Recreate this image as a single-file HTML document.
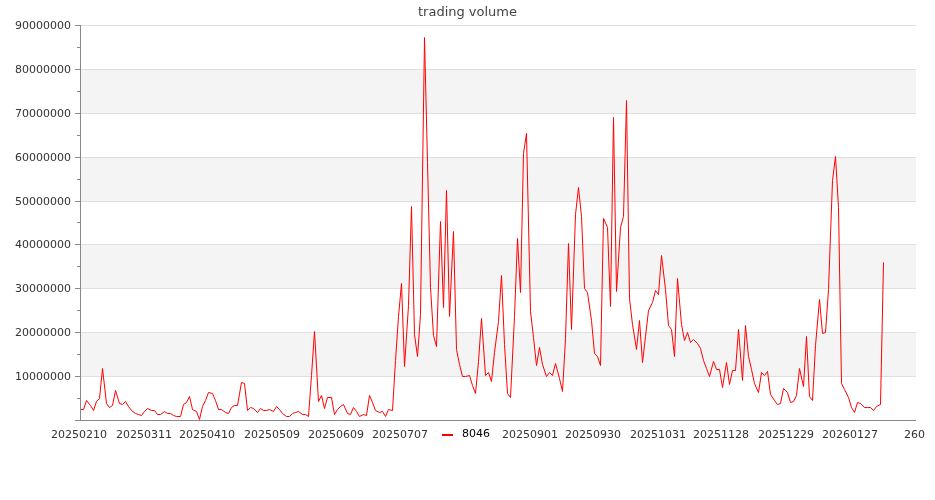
<!DOCTYPE html>
<html lang="en">
<head>
<meta charset="utf-8">
<title>trading volume</title>
<style>
html,body{margin:0;padding:0;background:#fff;}
body{width:935px;height:500px;overflow:hidden;position:relative;font-family:"DejaVu Sans","Liberation Sans",Verdana,sans-serif;}
#chart{position:absolute;left:0;top:0;width:935px;height:500px;}
svg{display:block}
text{font-family:"DejaVu Sans","Liberation Sans",Verdana,sans-serif;}
.yl{font-size:11px;fill:#333;text-anchor:end}
.xl{font-size:11px;fill:#333;text-anchor:start}
.ttl{font-size:13px;fill:#444;text-anchor:middle}
.lg{font-size:11px;fill:#000}
</style>
</head>
<body>
<div id="chart">
<svg width="935" height="500" viewBox="0 0 935 500">
<rect x="0" y="0" width="935" height="500" fill="#ffffff"/>

<g shape-rendering="crispEdges">
<rect x="81" y="69.39" width="835" height="43.89" fill="#f4f4f4"/>
<rect x="81" y="157.17" width="835" height="43.89" fill="#f4f4f4"/>
<rect x="81" y="244.94" width="835" height="43.89" fill="#f4f4f4"/>
<rect x="81" y="332.72" width="835" height="43.89" fill="#f4f4f4"/>
</g>
<g stroke="#dfdfdf" stroke-width="1" shape-rendering="crispEdges">
<line x1="81" y1="25.5" x2="916" y2="25.5"/>
<line x1="81" y1="69.5" x2="916" y2="69.5"/>
<line x1="81" y1="113.5" x2="916" y2="113.5"/>
<line x1="81" y1="157.5" x2="916" y2="157.5"/>
<line x1="81" y1="201.5" x2="916" y2="201.5"/>
<line x1="81" y1="244.5" x2="916" y2="244.5"/>
<line x1="81" y1="288.5" x2="916" y2="288.5"/>
<line x1="81" y1="332.5" x2="916" y2="332.5"/>
<line x1="81" y1="376.5" x2="916" y2="376.5"/>
</g>
<text class="yl" x="71" y="29.0">90000000</text>
<text class="yl" x="71" y="73.0">80000000</text>
<text class="yl" x="71" y="117.0">70000000</text>
<text class="yl" x="71" y="161.0">60000000</text>
<text class="yl" x="71" y="205.0">50000000</text>
<text class="yl" x="71" y="248.0">40000000</text>
<text class="yl" x="71" y="292.0">30000000</text>
<text class="yl" x="71" y="336.0">20000000</text>
<text class="yl" x="71" y="380.0">10000000</text>
<text class="xl" x="51" y="438">20250210</text>
<text class="xl" x="116" y="438">20250311</text>
<text class="xl" x="179" y="438">20250410</text>
<text class="xl" x="244" y="438">20250509</text>
<text class="xl" x="308" y="438">20250609</text>
<text class="xl" x="372" y="438">20250707</text>
<text class="xl" x="502" y="438">20250901</text>
<text class="xl" x="565" y="438">20250930</text>
<text class="xl" x="630" y="438">20251031</text>
<text class="xl" x="693" y="438">20251128</text>
<text class="xl" x="758" y="438">20251229</text>
<text class="xl" x="822" y="438">20260127</text>
<text class="xl" x="904" y="438">260</text>
<text class="ttl" x="467.5" y="16">trading volume</text>
<polyline fill="none" stroke="#ff0000" stroke-width="1" stroke-linejoin="miter" points="80.50,409.50 83.50,409.50 86.50,400.50 90.50,405.50 93.50,410.50 96.50,401.50 99.50,398.50 102.50,368.50 106.50,403.50 109.50,407.50 112.50,405.50 115.50,390.50 119.50,403.50 122.50,404.50 125.50,401.50 128.50,406.50 131.50,410.50 135.50,413.50 138.50,414.50 141.50,415.50 144.50,411.50 147.50,408.50 151.50,410.50 154.50,410.50 157.50,414.50 160.50,414.50 164.50,411.50 167.50,413.50 170.50,413.50 173.50,415.50 176.50,416.50 180.50,416.50 183.50,404.50 186.50,402.50 189.50,396.50 192.50,409.50 196.50,411.50 199.50,419.50 202.50,406.50 205.50,400.50 208.50,392.50 212.50,393.50 215.50,400.50 218.50,409.50 221.50,409.50 225.50,412.50 228.50,413.50 231.50,407.50 234.50,405.50 237.50,405.50 241.50,382.50 244.50,383.50 247.50,410.50 250.50,407.50 253.50,408.50 257.50,412.50 260.50,408.50 263.50,410.50 266.50,410.50 269.50,409.50 273.50,411.50 276.50,406.50 279.50,409.50 282.50,413.50 286.50,416.50 289.50,416.50 292.50,413.50 295.50,412.50 298.50,411.50 302.50,414.50 305.50,414.50 308.50,416.50 311.50,375.50 314.50,331.50 318.50,401.50 321.50,395.50 324.50,408.50 327.50,397.50 331.50,397.50 334.50,414.50 337.50,409.50 340.50,406.50 343.50,404.50 347.50,413.50 350.50,414.50 353.50,407.50 356.50,411.50 359.50,416.50 363.50,414.50 366.50,415.50 369.50,395.50 372.50,402.50 375.50,410.50 379.50,412.50 382.50,411.50 385.50,416.50 388.50,409.50 392.50,410.50 395.50,360.50 398.50,316.50 401.50,283.50 404.50,366.50 408.50,305.50 411.50,206.50 414.50,334.50 417.50,356.50 420.50,314.50 424.50,37.50 427.50,162.50 430.50,287.50 433.50,335.50 436.50,346.50 440.50,221.50 443.50,307.50 446.50,190.50 449.50,316.50 453.50,231.50 456.50,349.50 459.50,364.50 462.50,376.50 465.50,376.50 469.50,375.50 472.50,385.50 475.50,393.50 478.50,361.50 481.50,318.50 485.50,375.50 488.50,372.50 491.50,381.50 494.50,352.50 498.50,321.50 501.50,275.50 504.50,344.50 507.50,393.50 510.50,397.50 514.50,316.50 517.50,238.50 520.50,292.50 523.50,153.50 526.50,133.50 530.50,311.50 533.50,337.50 536.50,365.50 539.50,347.50 542.50,364.50 546.50,376.50 549.50,372.50 552.50,375.50 555.50,363.50 559.50,378.50 562.50,391.50 565.50,338.50 568.50,243.50 571.50,329.50 575.50,214.50 578.50,187.50 581.50,216.50 584.50,288.50 587.50,292.50 591.50,320.50 594.50,353.50 597.50,356.50 600.50,365.50 603.50,218.50 607.50,227.50 610.50,306.50 613.50,117.50 616.50,291.50 620.50,227.50 623.50,216.50 626.50,100.50 629.50,298.50 632.50,324.50 636.50,349.50 639.50,320.50 642.50,362.50 645.50,336.50 648.50,310.50 652.50,302.50 655.50,290.50 658.50,294.50 661.50,255.50 665.50,289.50 668.50,325.50 671.50,329.50 674.50,356.50 677.50,278.50 681.50,324.50 684.50,340.50 687.50,332.50 690.50,342.50 693.50,339.50 697.50,343.50 700.50,348.50 703.50,360.50 706.50,368.50 709.50,376.50 713.50,361.50 716.50,369.50 719.50,369.50 722.50,387.50 726.50,362.50 729.50,384.50 732.50,370.50 735.50,370.50 738.50,329.50 742.50,380.50 745.50,325.50 748.50,356.50 751.50,369.50 754.50,383.50 758.50,392.50 761.50,372.50 764.50,375.50 767.50,371.50 770.50,394.50 774.50,400.50 777.50,404.50 780.50,403.50 783.50,388.50 787.50,392.50 790.50,402.50 793.50,401.50 796.50,395.50 799.50,368.50 803.50,386.50 806.50,336.50 809.50,396.50 812.50,400.50 815.50,345.50 819.50,299.50 822.50,333.50 825.50,332.50 828.50,289.50 832.50,180.50 835.50,156.50 838.50,207.50 841.50,383.50 844.50,389.50 848.50,397.50 851.50,407.50 854.50,412.50 857.50,402.50 860.50,403.50 864.50,407.50 867.50,407.50 870.50,407.50 873.50,410.50 876.50,406.50 880.50,404.50 883.50,262.50"/>
<g stroke="#888888" stroke-width="1" shape-rendering="crispEdges">
<line x1="80.5" y1="25" x2="80.5" y2="421"/>
<line x1="75" y1="420.5" x2="916" y2="420.5"/>
<line x1="75" y1="25.5" x2="80" y2="25.5"/>
<line x1="77" y1="47.5" x2="80" y2="47.5"/>
<line x1="75" y1="69.5" x2="80" y2="69.5"/>
<line x1="77" y1="91.5" x2="80" y2="91.5"/>
<line x1="75" y1="113.5" x2="80" y2="113.5"/>
<line x1="77" y1="135.5" x2="80" y2="135.5"/>
<line x1="75" y1="157.5" x2="80" y2="157.5"/>
<line x1="77" y1="179.5" x2="80" y2="179.5"/>
<line x1="75" y1="201.5" x2="80" y2="201.5"/>
<line x1="77" y1="222.5" x2="80" y2="222.5"/>
<line x1="75" y1="244.5" x2="80" y2="244.5"/>
<line x1="77" y1="266.5" x2="80" y2="266.5"/>
<line x1="75" y1="288.5" x2="80" y2="288.5"/>
<line x1="77" y1="310.5" x2="80" y2="310.5"/>
<line x1="75" y1="332.5" x2="80" y2="332.5"/>
<line x1="77" y1="354.5" x2="80" y2="354.5"/>
<line x1="75" y1="376.5" x2="80" y2="376.5"/>
<line x1="77" y1="398.5" x2="80" y2="398.5"/>
</g>
<g shape-rendering="crispEdges"><rect x="436" y="431" width="1" height="1" fill="#e4e4e4"/><rect x="436" y="437" width="1" height="1" fill="#dcdcdc"/></g>
<line x1="442" y1="435" x2="453" y2="435" stroke="#ff0000" stroke-width="2"/>
<text class="lg" x="462" y="437">8046</text>
</svg>
</div>
</body>
</html>
